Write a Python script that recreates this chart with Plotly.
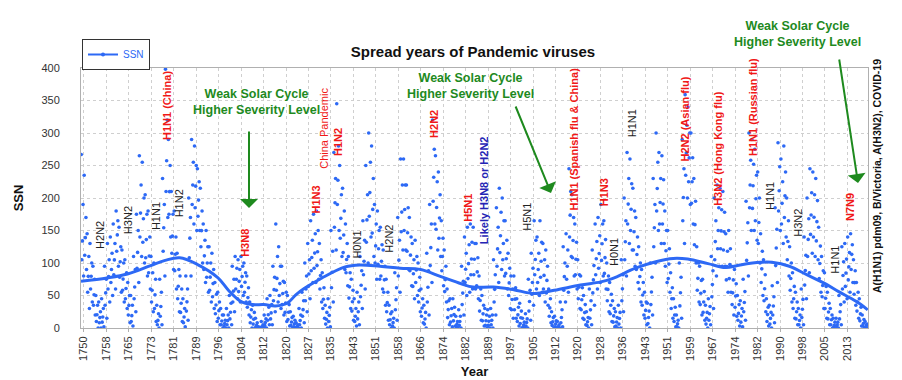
import plotly.graph_objects as go

# ---------------- data ----------------
first_year = 1749
ssn_mean = [
    134.0, 139.0, 79.5, 79.7, 51.2, 20.3, 16.0, 17.0, 54.0, 79.3,
    90.0, 104.8, 143.2, 102.0, 75.2, 60.7, 34.8, 19.0, 63.0, 116.3,
    176.8, 168.0, 136.0, 110.8, 58.0, 51.0, 11.7, 33.0, 154.2, 257.3,
    209.8, 141.3, 113.5, 64.2, 38.0, 17.0, 40.2, 138.2, 220.0, 218.2,
    196.8, 149.8, 111.0, 100.0, 78.2, 68.3, 35.5, 26.7, 10.7, 6.8,
    11.3, 24.2, 56.7, 75.0, 71.8, 79.2, 70.3, 46.8, 16.8, 13.5,
    4.2, 0.0, 2.3, 8.3, 20.3, 23.2, 59.0, 76.3, 68.3, 52.9,
    38.5, 24.2, 9.2, 6.3, 2.2, 11.4, 28.2, 59.9, 83.0, 108.5,
    115.2, 117.4, 80.8, 44.3, 13.4, 19.5, 85.8, 192.7, 227.3, 168.7,
    143.0, 105.5, 63.3, 40.3, 18.1, 25.1, 65.8, 102.7, 166.3, 208.3,
    182.5, 126.3, 122.0, 102.7, 74.1, 39.0, 12.7, 8.2, 43.4, 104.4,
    178.3, 182.2, 146.6, 112.1, 83.5, 89.2, 57.8, 30.7, 13.9, 62.8,
    123.6, 232.0, 185.3, 169.2, 110.1, 74.5, 28.3, 18.9, 20.7, 5.7,
    10.0, 53.7, 90.5, 99.0, 106.1, 105.8, 86.3, 42.4, 21.8, 11.2,
    10.4, 11.8, 59.5, 121.7, 142.0, 130.0, 106.6, 69.4, 43.8, 44.4,
    20.2, 15.7, 4.6, 8.5, 40.8, 70.1, 105.5, 90.1, 102.8, 80.9,
    73.2, 30.9, 9.5, 6.0, 2.4, 16.1, 79.0, 95.0, 173.6, 134.6,
    105.7, 62.7, 43.5, 23.7, 9.7, 27.9, 74.0, 106.5, 114.7, 129.7,
    108.2, 59.4, 35.1, 18.6, 9.2, 14.6, 60.2, 132.8, 190.6, 182.6,
    148.0, 113.0, 79.2, 50.8, 27.1, 16.1, 55.3, 154.3, 214.7, 193.0,
    190.7, 118.9, 98.3, 45.0, 20.1, 6.6, 54.2, 200.7, 269.3, 261.7,
    225.1, 159.0, 76.4, 53.4, 39.9, 15.0, 22.0, 66.8, 132.9, 150.0,
    149.4, 148.0, 94.4, 97.6, 54.1, 49.2, 22.5, 18.4, 39.3, 131.0,
    220.1, 218.9, 198.9, 162.4, 91.0, 60.5, 20.6, 14.8, 33.9, 123.0,
    211.1, 191.8, 203.3, 133.0, 76.1, 44.9, 25.1, 11.6, 28.9, 88.3,
    136.3, 173.9, 170.4, 163.6, 99.3, 65.3, 45.8, 24.7, 12.6, 4.2,
    4.8, 24.9, 80.8, 84.5, 94.0, 113.3, 69.8, 39.8, 21.7, 7.0,
    3.6,
]
ssn_high = [
    267, 235, 145, 130, 95, 50, 40, 45, 95, 130,
    140, 160, 180, 155, 120, 105, 70, 50, 110, 175,
    265, 255, 205, 180, 110, 100, 35, 75, 230, 398,
    290, 210, 180, 115, 80, 45, 80, 200, 290, 280,
    245, 215, 160, 150, 125, 115, 70, 55, 30, 20,
    30, 50, 95, 110, 105, 110, 100, 80, 40, 35,
    15, 2, 10, 20, 45, 50, 95, 160, 125, 95,
    70, 50, 25, 18, 8, 30, 55, 100, 130, 165,
    175, 180, 130, 85, 35, 45, 150, 270, 345, 250,
    215, 160, 110, 75, 45, 55, 110, 165, 250, 300,
    280, 190, 180, 155, 120, 75, 35, 25, 85, 170,
    260, 260, 220, 170, 130, 135, 100, 60, 35, 115,
    190, 320, 265, 240, 165, 120, 60, 45, 45, 18,
    28, 95, 140, 155, 160, 155, 130, 80, 50, 30,
    28, 30, 105, 185, 215, 200, 165, 115, 80, 80,
    45, 38, 15, 22, 75, 115, 165, 140, 165, 130,
    120, 60, 25, 18, 10, 40, 125, 145, 245, 205,
    160, 105, 80, 50, 25, 60, 120, 160, 170, 190,
    165, 100, 70, 42, 25, 35, 105, 200, 270, 260,
    215, 170, 125, 90, 55, 38, 100, 230, 300, 270,
    265, 180, 150, 85, 45, 20, 100, 290, 359, 340,
    300, 230, 125, 95, 75, 35, 45, 110, 200, 220,
    215, 210, 145, 150, 95, 90, 50, 42, 75, 195,
    300, 290, 275, 240, 145, 105, 45, 35, 65, 185,
    285, 260, 280, 200, 125, 85, 55, 30, 60, 140,
    200, 245, 240, 230, 155, 110, 85, 55, 30, 15,
    15, 50, 125, 130, 140, 145, 105, 70, 45, 20,
    10,
]
ssn_upper = [
    190, 170, 110, 100, 75, 35, 25, 30, 75, 105,
    115, 130, 165, 125, 100, 85, 50, 35, 90, 150,
    220, 200, 175, 140, 85, 75, 22, 55, 190, 320,
    250, 175, 140, 90, 60, 30, 60, 170, 255, 250,
    225, 180, 135, 125, 100, 90, 52, 40, 20, 12,
    20, 38, 75, 92, 90, 95, 85, 62, 28, 24,
    8, 1, 5, 14, 32, 36, 78, 110, 95, 72,
    55, 36, 16, 12, 5, 20, 42, 80, 105, 135,
    145, 150, 105, 62, 24, 32, 118, 230, 280, 205,
    180, 130, 85, 58, 30, 40, 88, 135, 205, 255,
    230, 160, 150, 128, 95, 55, 22, 15, 62, 135,
    220, 220, 185, 140, 105, 110, 78, 45, 24, 88,
    160, 275, 225, 205, 138, 95, 42, 30, 32, 10,
    18, 72, 115, 128, 132, 130, 108, 60, 35, 20,
    18, 20, 82, 155, 178, 165, 135, 92, 60, 62,
    32, 26, 9, 14, 58, 92, 135, 115, 132, 105,
    95, 45, 16, 11, 5, 28, 100, 120, 210, 170,
    132, 82, 62, 36, 16, 42, 96, 133, 142, 160,
    136, 80, 52, 30, 16, 24, 82, 165, 230, 222,
    180, 140, 100, 70, 40, 26, 78, 190, 255, 230,
    228, 150, 122, 62, 32, 12, 78, 245, 312, 300,
    262, 195, 100, 73, 56, 24, 33, 88, 165, 185,
    182, 178, 118, 122, 74, 68, 36, 30, 56, 162,
    258, 252, 235, 200, 118, 82, 32, 24, 48, 152,
    248, 225, 240, 165, 100, 64, 40, 20, 44, 112,
    168, 208, 205, 196, 126, 88, 64, 38, 20, 9,
    9, 36, 102, 106, 116, 128, 88, 55, 32, 13,
    6,
]
ssn_lower = [
    105, 112, 55, 60, 35, 10, 8, 9, 35, 60,
    70, 82, 118, 78, 58, 45, 20, 10, 45, 92,
    140, 132, 108, 85, 40, 30, 5, 18, 118, 210,
    175, 115, 88, 45, 24, 8, 26, 108, 190, 185,
    172, 125, 90, 78, 58, 48, 22, 15, 5, 3,
    5, 14, 40, 60, 56, 64, 55, 32, 8, 6,
    2, 0, 1, 4, 12, 14, 42, 58, 50, 36,
    24, 13, 4, 2, 1, 5, 18, 42, 64, 88,
    92, 96, 60, 30, 6, 10, 62, 155, 190, 138,
    116, 85, 46, 26, 10, 14, 48, 82, 132, 172,
    146, 100, 98, 80, 55, 25, 5, 3, 28, 80,
    148, 150, 118, 88, 64, 70, 40, 18, 6, 40,
    96, 195, 152, 138, 88, 56, 16, 9, 11, 2,
    4, 36, 70, 76, 82, 82, 65, 26, 11, 4,
    4, 5, 40, 95, 116, 105, 84, 50, 28, 28,
    10, 7, 2, 3, 26, 52, 82, 70, 78, 60,
    54, 18, 4, 2, 1, 8, 58, 75, 140, 108,
    82, 45, 28, 13, 4, 15, 54, 82, 92, 104,
    84, 42, 22, 9, 3, 6, 42, 105, 160, 150,
    120, 90, 60, 35, 15, 7, 36, 125, 180, 160,
    160, 95, 76, 30, 10, 2, 34, 165, 235, 225,
    192, 128, 58, 36, 24, 6, 12, 48, 105, 122,
    122, 120, 74, 76, 36, 32, 12, 9, 25, 104,
    185, 184, 165, 130, 70, 42, 10, 6, 20, 96,
    180, 160, 170, 105, 58, 30, 14, 5, 16, 66,
    110, 144, 140, 134, 76, 48, 30, 14, 5, 1,
    1, 14, 60, 64, 74, 90, 52, 26, 11, 3,
    1,
]
ssn_low = [
    80, 90, 30, 40, 20, 0, 0, 2, 15, 40,
    50, 60, 95, 55, 40, 30, 8, 3, 25, 70,
    110, 100, 80, 60, 25, 10, 0, 5, 80, 170,
    140, 90, 60, 25, 10, 2, 12, 80, 160, 150,
    150, 100, 70, 55, 40, 30, 10, 5, 0, 0,
    0, 5, 25, 45, 40, 50, 40, 20, 0, 0,
    0, 0, 0, 0, 5, 5, 25, 40, 30, 20,
    10, 3, 0, 0, 0, 0, 8, 25, 45, 70,
    70, 75, 40, 15, 0, 2, 40, 120, 150, 110,
    90, 65, 30, 12, 3, 5, 30, 60, 100, 140,
    110, 75, 75, 60, 35, 12, 0, 0, 12, 55,
    120, 120, 90, 65, 45, 50, 25, 8, 0, 20,
    70, 160, 120, 110, 65, 40, 5, 2, 3, 0,
    0, 20, 50, 55, 60, 60, 45, 12, 3, 0,
    0, 0, 20, 70, 90, 80, 60, 30, 15, 15,
    3, 0, 0, 0, 12, 35, 60, 50, 55, 40,
    35, 8, 0, 0, 0, 2, 40, 55, 110, 80,
    60, 30, 15, 5, 0, 5, 35, 60, 70, 80,
    60, 25, 10, 2, 0, 0, 25, 80, 130, 120,
    95, 70, 40, 20, 5, 0, 20, 100, 150, 130,
    130, 70, 55, 15, 2, 0, 15, 130, 200, 190,
    160, 100, 40, 20, 12, 0, 5, 30, 80, 95,
    95, 95, 55, 55, 20, 18, 3, 2, 12, 80,
    150, 150, 135, 100, 50, 25, 3, 0, 8, 70,
    150, 130, 140, 80, 40, 15, 5, 0, 5, 45,
    85, 115, 110, 105, 55, 30, 15, 5, 0, 0,
    0, 5, 40, 45, 55, 70, 35, 15, 3, 0,
    0,
]
trend_years = [1749, 1758, 1765, 1773, 1778, 1783, 1789, 1796, 1800, 1804,
               1808, 1812, 1816, 1820, 1823, 1826, 1832, 1840, 1845, 1852,
               1859, 1866, 1873, 1880, 1884, 1891, 1898, 1905, 1912, 1921,
               1928, 1932, 1940, 1947, 1953, 1958, 1965, 1971, 1976, 1983,
               1987, 1993, 1999, 2005, 2010, 2016, 2020]
trend_ssn = [72, 77, 83, 96, 104, 108, 98, 78, 57, 41,
             36, 36, 34, 38, 51, 61, 77, 94, 97, 95,
             92, 90, 79, 68, 63, 63, 59, 53, 58, 66,
             71, 76, 92, 102, 107, 106, 99, 93, 97, 101,
             101, 95, 82, 69, 56, 41, 28]
tick_labels = ["1750", "1758", "1765", "1773", "1781", "1789", "1796", "1804",
               "1812", "1820", "1827", "1835", "1843", "1851", "1858", "1866",
               "1874", "1882", "1889", "1897", "1905", "1912", "1920", "1928",
               "1936", "1943", "1951", "1959", "1967", "1974", "1982", "1990",
               "1998", "2005", "2013"]

# ---------------- styling ----------------
BLUE = "rgb(45,105,245)"
RED = "#f01818"
DARK = "#222222"
NAVY = "#2424b4"
GREEN = "#1e8a1e"

xs, ys = [], []
for i, vals in enumerate(zip(ssn_high, ssn_lower, ssn_mean, ssn_upper, ssn_low)):
    yr = first_year + i
    for off, v in zip((0.1, 0.3, 0.5, 0.7, 0.9), vals):
        xs.append(yr + off)
        ys.append(v)

tick_step = (2013 - 1750) / (len(tick_labels) - 1)
tick_vals = [1750 + k * tick_step for k in range(len(tick_labels))]

fig = go.Figure()
fig.add_trace(go.Scatter(x=xs, y=ys, mode="markers",
                         marker=dict(color=BLUE, size=3.6), showlegend=False,
                         hoverinfo="x+y"))
fig.add_trace(go.Scatter(x=trend_years, y=trend_ssn, mode="lines",
                         line=dict(color=BLUE, width=3, shape="spline", smoothing=1.0),
                         showlegend=False))
fig.add_trace(go.Scatter(x=[None], y=[None], mode="lines+markers", name="SSN",
                         line=dict(color=BLUE, width=2),
                         marker=dict(color=BLUE, size=4)))

L, R, T, B = 81, 34, 68, 52
W, H = 902, 380
PW, PH = W - L - R, H - T - B


def px(xp):
    return (xp - L) / PW


def py(yp):
    return (H - B - yp) / PH


labels = [
    ("H2N2", 1755.5, 143, DARK, False),
    ("H3N2", 1765.2, 166, DARK, False),
    ("H1N1", 1774.8, 172, DARK, False),
    ("H1N2", 1782.8, 192, DARK, False),
    ("H1N1 (China)", 1778.6, 343, RED, True),
    ("H3N8", 1805.5, 131, RED, True),
    ("H1N3", 1830.0, 198, RED, True),
    ("China Pandemic", 1832.7, 308, RED, False),
    ("H1N2", 1837.5, 286, RED, True),
    ("H0N1", 1844.0, 128, DARK, False),
    ("H2N2", 1855.0, 137, DARK, False),
    ("H2N2", 1870.6, 314, RED, True),
    ("H5N1", 1882.3, 185, RED, True),
    ("Likely H3N8 or H2N2", 1887.8, 212, NAVY, True),
    ("H5N1", 1902.6, 171, DARK, False),
    ("H1N1 (Spanish flu & China)", 1918.5, 290, RED, True),
    ("H1N3", 1929.2, 209, RED, True),
    ("H0N1", 1932.6, 117, DARK, False),
    ("H1N1", 1938.8, 315, DARK, False),
    ("H2N2 (Asian flu)", 1957.0, 322, RED, True),
    ("H3N2 (Hong Kong flu)", 1968.4, 277, RED, True),
    ("H1N1 (Russian flu)", 1980.5, 340, RED, True),
    ("H1N1", 1986.3, 203, DARK, False),
    ("H3N2", 1996.0, 162, DARK, False),
    ("H1N1", 2008.7, 105, DARK, False),
    ("N7N9", 2013.9, 186, RED, True),
]
annotations = []
for text, xv, yv, col, bold in labels:
    annotations.append(dict(
        x=xv, y=yv, xref="x", yref="y", text=f"<b>{text}</b>" if bold else text,
        textangle=-90, showarrow=False, xanchor="center", yanchor="middle",
        font=dict(family="Arial, Liberation Sans", size=11, color=col)))

green_txt = "<b>Weak Solar Cycle<br>Higher Severity Level</b>"
for cx, cy in [(256, 102), (470, 86), (797, 34)]:
    annotations.append(dict(
        x=px(cx), y=py(cy), xref="paper", yref="paper", text=green_txt,
        showarrow=False, xanchor="center", yanchor="middle", align="center",
        font=dict(family="Arial, Liberation Sans", size=12.5, color=GREEN)))

for (tx, ty), (hx, hy) in [((249, 130), (249, 208)),
                           ((515, 105), (551, 193)),
                           ((839, 58), (858, 183))]:
    annotations.append(dict(
        x=px(hx), y=py(hy), xref="paper", yref="paper", text="",
        showarrow=True, ax=tx - hx, ay=ty - hy, axref="pixel", ayref="pixel",
        arrowhead=1, arrowsize=1.5, arrowwidth=2, arrowcolor=GREEN, standoff=0))

annotations.append(dict(
    x=px(877), y=py(176), xref="paper", yref="paper",
    text="<b>A(H1N1) pdm09, B/Victoria, A(H3N2), COVID-19</b>",
    textangle=-90, showarrow=False, xanchor="center", yanchor="middle",
    font=dict(family="Arial, Liberation Sans", size=10.5, color="#111111")))

fig.update_layout(
    width=W, height=H,
    margin=dict(l=L, r=R, t=T, b=B, autoexpand=False),
    paper_bgcolor="white", plot_bgcolor="white",
    font=dict(family="Arial, Liberation Sans", color="#333333"),
    title=dict(text="<b>Spread years of Pandemic viruses</b>", x=px(473), xref="paper",
               y=1 - 52 / H, yanchor="middle", xanchor="center",
               font=dict(size=15, color="#111111")),
    showlegend=True,
    legend=dict(x=px(82), y=py(39), xanchor="left", yanchor="top",
                bgcolor="white", bordercolor="#333333", borderwidth=1,
                font=dict(size=10, color=BLUE), itemwidth=30),
    annotations=annotations,
    shapes=[dict(type="rect", xref="paper", yref="paper",
                 x0=px(85), x1=px(150), y0=py(70), y1=py(42),
                 fillcolor="#555555", line=dict(width=0), layer="below")],
)
fig.update_xaxes(
    range=[1749, 2020.1], tickvals=tick_vals, ticktext=tick_labels, tickangle=-90,
    tickfont=dict(size=11, color="#333333"), automargin=False,
    showgrid=True, gridcolor="#cfcfcf", griddash="dot", gridwidth=1,
    showline=True, linecolor="#b0b0b0", mirror=True,
    ticks="outside", ticklen=3, tickcolor="#b0b0b0",
    zeroline=False,
    title=dict(text="<b>Year</b>", font=dict(size=13, color="#111111"), standoff=7),
)
fig.update_yaxes(
    range=[0, 400], tickvals=list(range(0, 401, 50)),
    tickfont=dict(size=11, color="#333333"), automargin=False,
    showgrid=True, gridcolor="#cfcfcf", griddash="dot", gridwidth=1,
    showline=True, linecolor="#b0b0b0", mirror=True,
    ticks="outside", ticklen=18, tickcolor="rgba(0,0,0,0)",
    zeroline=False,
    title=dict(text="<b>SSN</b>", font=dict(size=13, color="#111111"), standoff=14),
)

fig.write_html("out.html", config={"displayModeBar": False},
               post_script="document.body.style.margin='0px';")
